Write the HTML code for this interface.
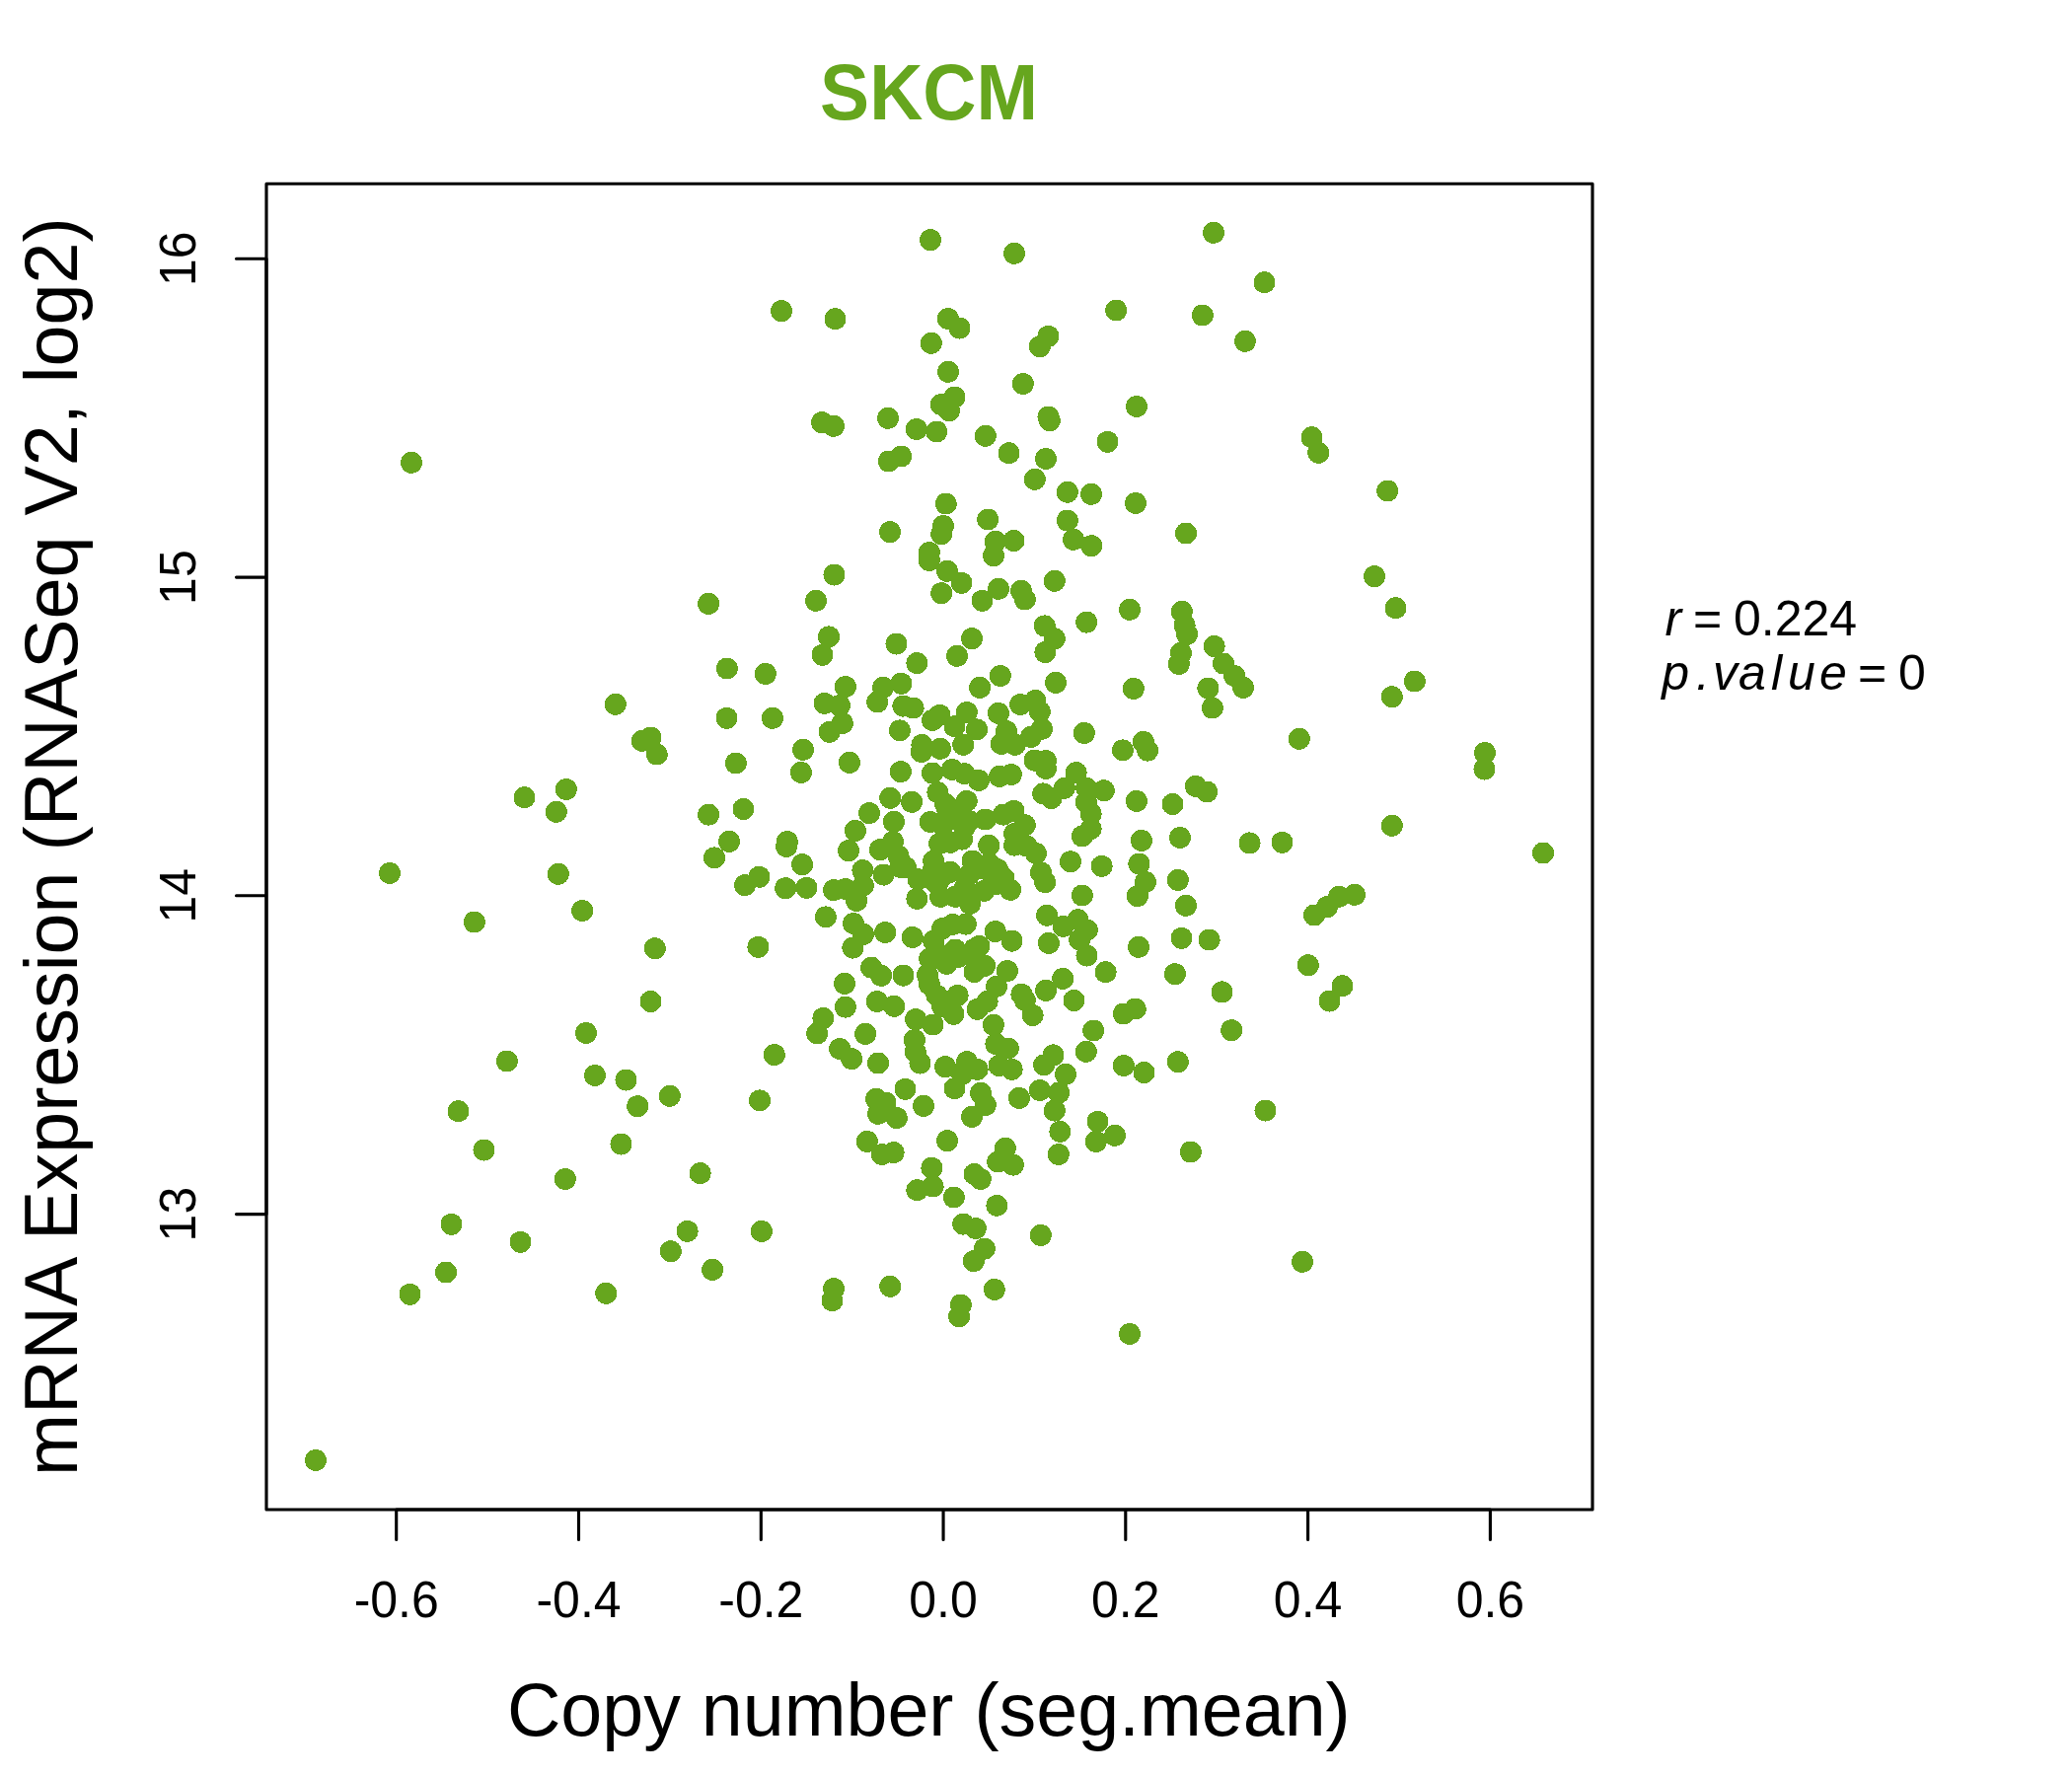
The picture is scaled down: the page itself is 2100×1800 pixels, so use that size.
<!DOCTYPE html>
<html><head><meta charset="utf-8"><title>SKCM</title>
<style>
html,body{margin:0;padding:0;background:#fff;}
body{width:2100px;height:1800px;overflow:hidden;}
svg{display:block;}
text{font-family:"Liberation Sans",sans-serif;}
</style></head><body>
<svg width="2100" height="1800" viewBox="0 0 2100 1800" xmlns="http://www.w3.org/2000/svg">
<rect x="0" y="0" width="2100" height="1800" fill="#fff"/>
<text transform="translate(941.5 121) scale(1 1.05)" text-anchor="middle" font-size="75" font-weight="bold" fill="#66A61E">SKCM</text>
<g fill="#66A61E" shape-rendering="crispEdges"><circle cx="1347.5" cy="1014.5" r="11"/><circle cx="1138.8" cy="1027.5" r="11"/><circle cx="1150.8" cy="1022.5" r="11"/><circle cx="1108.2" cy="1044.5" r="11"/><circle cx="1100.8" cy="1065.8" r="11"/><circle cx="1138.8" cy="1080.0" r="11"/><circle cx="1159.5" cy="1087.0" r="11"/><circle cx="1193.8" cy="1076.2" r="11"/><circle cx="1248.2" cy="1044.2" r="11"/><circle cx="1282.5" cy="1125.5" r="11"/><circle cx="1112.5" cy="1136.8" r="11"/><circle cx="1130.0" cy="1150.8" r="11"/><circle cx="1110.8" cy="1157.0" r="11"/><circle cx="1206.8" cy="1167.5" r="11"/><circle cx="1320.0" cy="1278.8" r="11"/><circle cx="1145.0" cy="1352.0" r="11"/><circle cx="1230.0" cy="235.8" r="11"/><circle cx="1281.5" cy="286.2" r="11"/><circle cx="1131.2" cy="314.5" r="11"/><circle cx="1218.8" cy="319.5" r="11"/><circle cx="1262.0" cy="345.8" r="11"/><circle cx="1152.0" cy="412.0" r="11"/><circle cx="1122.5" cy="447.8" r="11"/><circle cx="1329.5" cy="443.2" r="11"/><circle cx="1336.2" cy="458.8" r="11"/><circle cx="1106.0" cy="500.8" r="11"/><circle cx="1151.0" cy="510.0" r="11"/><circle cx="1406.2" cy="497.5" r="11"/><circle cx="1202.0" cy="540.5" r="11"/><circle cx="1106.2" cy="553.2" r="11"/><circle cx="1393.0" cy="584.2" r="11"/><circle cx="1414.5" cy="616.2" r="11"/><circle cx="1433.8" cy="690.5" r="11"/><circle cx="1410.8" cy="706.2" r="11"/><circle cx="1316.8" cy="748.8" r="11"/><circle cx="1505.0" cy="763.0" r="11"/><circle cx="1504.5" cy="779.5" r="11"/><circle cx="1410.8" cy="836.8" r="11"/><circle cx="1299.5" cy="853.8" r="11"/><circle cx="1373.0" cy="906.8" r="11"/><circle cx="1357.0" cy="908.8" r="11"/><circle cx="1345.0" cy="919.2" r="11"/><circle cx="1332.0" cy="927.5" r="11"/><circle cx="1325.8" cy="978.2" r="11"/><circle cx="1360.5" cy="999.2" r="11"/><circle cx="1101.2" cy="630.6" r="11"/><circle cx="1145.0" cy="617.8" r="11"/><circle cx="1197.8" cy="619.8" r="11"/><circle cx="1200.6" cy="633.8" r="11"/><circle cx="1203.1" cy="642.8" r="11"/><circle cx="1196.9" cy="661.9" r="11"/><circle cx="1194.8" cy="672.9" r="11"/><circle cx="1230.6" cy="655.0" r="11"/><circle cx="1240.0" cy="672.5" r="11"/><circle cx="1251.2" cy="685.0" r="11"/><circle cx="1260.0" cy="696.9" r="11"/><circle cx="1224.4" cy="697.5" r="11"/><circle cx="1228.8" cy="717.5" r="11"/><circle cx="1148.8" cy="697.9" r="11"/><circle cx="1098.8" cy="742.9" r="11"/><circle cx="1137.9" cy="760.4" r="11"/><circle cx="1158.8" cy="751.9" r="11"/><circle cx="1163.1" cy="760.6" r="11"/><circle cx="1090.6" cy="783.1" r="11"/><circle cx="1101.2" cy="798.8" r="11"/><circle cx="1118.8" cy="801.2" r="11"/><circle cx="1211.9" cy="796.9" r="11"/><circle cx="1223.1" cy="802.5" r="11"/><circle cx="1105.6" cy="824.8" r="11"/><circle cx="1105.6" cy="840.0" r="11"/><circle cx="1096.9" cy="847.5" r="11"/><circle cx="1151.9" cy="811.9" r="11"/><circle cx="1188.5" cy="815.0" r="11"/><circle cx="1156.9" cy="851.9" r="11"/><circle cx="1196.0" cy="849.0" r="11"/><circle cx="1266.6" cy="854.4" r="11"/><circle cx="1116.6" cy="877.9" r="11"/><circle cx="1154.4" cy="875.6" r="11"/><circle cx="1161.0" cy="894.0" r="11"/><circle cx="1152.9" cy="908.1" r="11"/><circle cx="1193.8" cy="891.9" r="11"/><circle cx="1096.9" cy="907.5" r="11"/><circle cx="1201.9" cy="917.8" r="11"/><circle cx="1092.5" cy="932.2" r="11"/><circle cx="1101.9" cy="942.5" r="11"/><circle cx="1101.5" cy="968.5" r="11"/><circle cx="1154.0" cy="959.8" r="11"/><circle cx="1197.5" cy="950.9" r="11"/><circle cx="1225.6" cy="952.5" r="11"/><circle cx="1120.6" cy="985.2" r="11"/><circle cx="1190.9" cy="987.2" r="11"/><circle cx="1238.5" cy="1005.4" r="11"/><circle cx="659.5" cy="1015.0" r="11"/><circle cx="594.0" cy="1047.0" r="11"/><circle cx="513.8" cy="1075.5" r="11"/><circle cx="603.0" cy="1090.0" r="11"/><circle cx="634.5" cy="1094.5" r="11"/><circle cx="678.8" cy="1110.8" r="11"/><circle cx="646.2" cy="1121.2" r="11"/><circle cx="464.5" cy="1126.2" r="11"/><circle cx="490.5" cy="1165.5" r="11"/><circle cx="629.5" cy="1159.5" r="11"/><circle cx="572.8" cy="1195.0" r="11"/><circle cx="457.5" cy="1240.8" r="11"/><circle cx="527.5" cy="1258.8" r="11"/><circle cx="679.8" cy="1268.2" r="11"/><circle cx="452.0" cy="1289.5" r="11"/><circle cx="415.5" cy="1311.8" r="11"/><circle cx="614.2" cy="1310.8" r="11"/><circle cx="417.0" cy="468.8" r="11"/><circle cx="623.8" cy="713.8" r="11"/><circle cx="650.8" cy="750.8" r="11"/><circle cx="659.5" cy="747.5" r="11"/><circle cx="665.8" cy="764.5" r="11"/><circle cx="531.5" cy="808.2" r="11"/><circle cx="573.8" cy="800.0" r="11"/><circle cx="563.8" cy="822.8" r="11"/><circle cx="395.0" cy="885.0" r="11"/><circle cx="565.8" cy="885.8" r="11"/><circle cx="480.8" cy="934.5" r="11"/><circle cx="590.2" cy="923.0" r="11"/><circle cx="663.8" cy="961.2" r="11"/><circle cx="856.9" cy="1020.6" r="11"/><circle cx="888.8" cy="1015.0" r="11"/><circle cx="834.4" cy="1031.9" r="11"/><circle cx="828.1" cy="1047.5" r="11"/><circle cx="877.1" cy="1047.9" r="11"/><circle cx="851.2" cy="1063.1" r="11"/><circle cx="863.1" cy="1073.1" r="11"/><circle cx="890.0" cy="1077.5" r="11"/><circle cx="784.8" cy="1069.1" r="11"/><circle cx="770.0" cy="1115.4" r="11"/><circle cx="709.6" cy="1189.1" r="11"/><circle cx="888.1" cy="1113.8" r="11"/><circle cx="878.8" cy="1156.9" r="11"/><circle cx="696.6" cy="1247.9" r="11"/><circle cx="771.9" cy="1247.9" r="11"/><circle cx="722.1" cy="1286.9" r="11"/><circle cx="845.0" cy="1306.2" r="11"/><circle cx="843.5" cy="1318.1" r="11"/><circle cx="943.0" cy="243.2" r="11"/><circle cx="1028.0" cy="256.8" r="11"/><circle cx="792.0" cy="315.2" r="11"/><circle cx="846.5" cy="323.2" r="11"/><circle cx="960.8" cy="323.0" r="11"/><circle cx="972.5" cy="332.5" r="11"/><circle cx="943.8" cy="347.8" r="11"/><circle cx="1062.5" cy="340.8" r="11"/><circle cx="1053.8" cy="351.2" r="11"/><circle cx="961.0" cy="376.8" r="11"/><circle cx="1036.8" cy="389.0" r="11"/><circle cx="967.5" cy="402.5" r="11"/><circle cx="953.8" cy="410.0" r="11"/><circle cx="962.0" cy="416.2" r="11"/><circle cx="833.0" cy="428.2" r="11"/><circle cx="845.0" cy="431.8" r="11"/><circle cx="900.0" cy="423.8" r="11"/><circle cx="928.8" cy="435.0" r="11"/><circle cx="949.2" cy="437.5" r="11"/><circle cx="1062.5" cy="422.5" r="11"/><circle cx="1063.8" cy="426.2" r="11"/><circle cx="998.8" cy="441.8" r="11"/><circle cx="1022.5" cy="459.2" r="11"/><circle cx="1060.0" cy="465.0" r="11"/><circle cx="900.8" cy="467.5" r="11"/><circle cx="913.2" cy="462.5" r="11"/><circle cx="1048.8" cy="485.8" r="11"/><circle cx="1081.8" cy="498.8" r="11"/><circle cx="958.8" cy="510.5" r="11"/><circle cx="956.0" cy="533.0" r="11"/><circle cx="954.2" cy="541.2" r="11"/><circle cx="1001.2" cy="526.5" r="11"/><circle cx="902.0" cy="539.2" r="11"/><circle cx="1081.8" cy="527.5" r="11"/><circle cx="1008.8" cy="548.8" r="11"/><circle cx="1027.5" cy="548.0" r="11"/><circle cx="1007.0" cy="563.2" r="11"/><circle cx="1088.0" cy="546.8" r="11"/><circle cx="941.8" cy="560.0" r="11"/><circle cx="941.8" cy="568.0" r="11"/><circle cx="960.0" cy="578.8" r="11"/><circle cx="974.5" cy="590.8" r="11"/><circle cx="845.5" cy="582.5" r="11"/><circle cx="1068.8" cy="588.8" r="11"/><circle cx="827.0" cy="608.8" r="11"/><circle cx="954.2" cy="601.2" r="11"/><circle cx="995.5" cy="608.8" r="11"/><circle cx="1012.0" cy="596.8" r="11"/><circle cx="1035.0" cy="598.8" r="11"/><circle cx="1038.8" cy="607.5" r="11"/><circle cx="718.1" cy="611.9" r="11"/><circle cx="840.0" cy="645.4" r="11"/><circle cx="833.5" cy="663.8" r="11"/><circle cx="736.9" cy="677.5" r="11"/><circle cx="775.8" cy="682.9" r="11"/><circle cx="856.9" cy="696.0" r="11"/><circle cx="835.6" cy="712.9" r="11"/><circle cx="850.9" cy="715.0" r="11"/><circle cx="853.8" cy="733.1" r="11"/><circle cx="840.6" cy="741.9" r="11"/><circle cx="889.1" cy="711.5" r="11"/><circle cx="736.5" cy="727.8" r="11"/><circle cx="782.9" cy="727.8" r="11"/><circle cx="814.0" cy="759.8" r="11"/><circle cx="811.9" cy="782.9" r="11"/><circle cx="745.9" cy="773.5" r="11"/><circle cx="860.9" cy="772.9" r="11"/><circle cx="718.1" cy="825.6" r="11"/><circle cx="753.5" cy="820.0" r="11"/><circle cx="881.0" cy="824.1" r="11"/><circle cx="739.0" cy="852.9" r="11"/><circle cx="724.0" cy="869.4" r="11"/><circle cx="797.8" cy="853.1" r="11"/><circle cx="797.1" cy="857.9" r="11"/><circle cx="813.1" cy="876.2" r="11"/><circle cx="866.9" cy="841.9" r="11"/><circle cx="860.0" cy="862.2" r="11"/><circle cx="769.4" cy="888.8" r="11"/><circle cx="755.0" cy="897.1" r="11"/><circle cx="796.2" cy="900.2" r="11"/><circle cx="817.5" cy="899.8" r="11"/><circle cx="874.4" cy="882.1" r="11"/><circle cx="874.8" cy="897.5" r="11"/><circle cx="845.0" cy="902.1" r="11"/><circle cx="856.9" cy="901.0" r="11"/><circle cx="868.1" cy="912.9" r="11"/><circle cx="836.9" cy="929.4" r="11"/><circle cx="865.0" cy="936.0" r="11"/><circle cx="875.0" cy="946.9" r="11"/><circle cx="864.4" cy="960.6" r="11"/><circle cx="768.4" cy="959.8" r="11"/><circle cx="883.1" cy="980.6" r="11"/><circle cx="856.0" cy="996.9" r="11"/><circle cx="906.2" cy="1019.8" r="11"/><circle cx="966.5" cy="1027.8" r="11"/><circle cx="990.6" cy="1022.8" r="11"/><circle cx="1000.6" cy="1015.0" r="11"/><circle cx="1046.6" cy="1029.0" r="11"/><circle cx="1038.8" cy="1013.8" r="11"/><circle cx="1088.5" cy="1014.0" r="11"/><circle cx="928.1" cy="1033.1" r="11"/><circle cx="945.4" cy="1038.5" r="11"/><circle cx="926.9" cy="1054.0" r="11"/><circle cx="932.5" cy="1077.5" r="11"/><circle cx="1006.9" cy="1038.8" r="11"/><circle cx="1009.4" cy="1058.1" r="11"/><circle cx="1021.9" cy="1062.5" r="11"/><circle cx="1025.6" cy="1083.8" r="11"/><circle cx="1012.5" cy="1080.0" r="11"/><circle cx="958.1" cy="1081.2" r="11"/><circle cx="980.0" cy="1076.2" r="11"/><circle cx="990.6" cy="1083.8" r="11"/><circle cx="967.5" cy="1103.1" r="11"/><circle cx="1067.5" cy="1069.4" r="11"/><circle cx="1058.1" cy="1079.4" r="11"/><circle cx="1080.0" cy="1088.8" r="11"/><circle cx="917.5" cy="1103.8" r="11"/><circle cx="897.5" cy="1117.5" r="11"/><circle cx="908.8" cy="1133.1" r="11"/><circle cx="890.0" cy="1128.8" r="11"/><circle cx="936.0" cy="1120.9" r="11"/><circle cx="994.0" cy="1107.9" r="11"/><circle cx="998.8" cy="1120.0" r="11"/><circle cx="985.0" cy="1131.9" r="11"/><circle cx="1032.9" cy="1112.9" r="11"/><circle cx="1053.8" cy="1105.0" r="11"/><circle cx="1073.1" cy="1107.5" r="11"/><circle cx="1068.8" cy="1125.6" r="11"/><circle cx="1074.4" cy="1146.9" r="11"/><circle cx="1072.8" cy="1170.0" r="11"/><circle cx="960.0" cy="1156.2" r="11"/><circle cx="905.6" cy="1168.1" r="11"/><circle cx="893.8" cy="1170.0" r="11"/><circle cx="1018.8" cy="1163.8" r="11"/><circle cx="1011.2" cy="1177.5" r="11"/><circle cx="1026.9" cy="1180.6" r="11"/><circle cx="944.4" cy="1183.8" r="11"/><circle cx="929.4" cy="1206.2" r="11"/><circle cx="945.6" cy="1202.5" r="11"/><circle cx="987.5" cy="1190.0" r="11"/><circle cx="993.8" cy="1195.0" r="11"/><circle cx="966.9" cy="1213.5" r="11"/><circle cx="1010.4" cy="1221.9" r="11"/><circle cx="976.2" cy="1240.6" r="11"/><circle cx="988.8" cy="1245.0" r="11"/><circle cx="997.8" cy="1265.6" r="11"/><circle cx="986.9" cy="1278.1" r="11"/><circle cx="1054.8" cy="1251.9" r="11"/><circle cx="902.2" cy="1303.8" r="11"/><circle cx="1007.9" cy="1306.9" r="11"/><circle cx="973.8" cy="1322.5" r="11"/><circle cx="972.1" cy="1334.4" r="11"/><circle cx="908.5" cy="652.5" r="11"/><circle cx="929.4" cy="672.1" r="11"/><circle cx="985.0" cy="647.2" r="11"/><circle cx="970.0" cy="664.8" r="11"/><circle cx="1058.8" cy="634.4" r="11"/><circle cx="1068.8" cy="647.2" r="11"/><circle cx="1059.4" cy="661.0" r="11"/><circle cx="1013.8" cy="685.0" r="11"/><circle cx="993.1" cy="696.9" r="11"/><circle cx="1070.0" cy="691.9" r="11"/><circle cx="895.0" cy="696.9" r="11"/><circle cx="913.4" cy="692.8" r="11"/><circle cx="915.4" cy="715.6" r="11"/><circle cx="925.6" cy="717.5" r="11"/><circle cx="911.9" cy="740.4" r="11"/><circle cx="952.5" cy="724.8" r="11"/><circle cx="945.0" cy="730.0" r="11"/><circle cx="979.8" cy="722.0" r="11"/><circle cx="990.0" cy="739.4" r="11"/><circle cx="967.5" cy="736.2" r="11"/><circle cx="976.2" cy="754.8" r="11"/><circle cx="1011.9" cy="722.9" r="11"/><circle cx="1034.1" cy="714.0" r="11"/><circle cx="1049.4" cy="710.0" r="11"/><circle cx="1053.8" cy="721.2" r="11"/><circle cx="1055.9" cy="738.8" r="11"/><circle cx="1014.8" cy="754.0" r="11"/><circle cx="1028.8" cy="754.8" r="11"/><circle cx="1045.0" cy="746.9" r="11"/><circle cx="1020.0" cy="741.2" r="11"/><circle cx="934.4" cy="755.0" r="11"/><circle cx="933.8" cy="761.9" r="11"/><circle cx="952.9" cy="758.8" r="11"/><circle cx="912.9" cy="782.1" r="11"/><circle cx="902.2" cy="808.8" r="11"/><circle cx="945.0" cy="783.5" r="11"/><circle cx="965.0" cy="780.0" r="11"/><circle cx="977.5" cy="784.1" r="11"/><circle cx="991.9" cy="790.9" r="11"/><circle cx="1013.1" cy="786.9" r="11"/><circle cx="1024.8" cy="785.0" r="11"/><circle cx="1048.5" cy="770.6" r="11"/><circle cx="1060.0" cy="771.2" r="11"/><circle cx="1060.0" cy="779.0" r="11"/><circle cx="950.4" cy="803.1" r="11"/><circle cx="1057.2" cy="804.4" r="11"/><circle cx="1065.6" cy="809.0" r="11"/><circle cx="1078.8" cy="798.8" r="11"/><circle cx="924.1" cy="812.8" r="11"/><circle cx="905.9" cy="832.8" r="11"/><circle cx="942.9" cy="833.0" r="11"/><circle cx="958.1" cy="814.7" r="11"/><circle cx="979.7" cy="811.9" r="11"/><circle cx="975.0" cy="850.6" r="11"/><circle cx="952.2" cy="855.0" r="11"/><circle cx="963.1" cy="853.8" r="11"/><circle cx="985.6" cy="872.5" r="11"/><circle cx="946.2" cy="872.5" r="11"/><circle cx="963.1" cy="883.8" r="11"/><circle cx="905.0" cy="853.1" r="11"/><circle cx="910.6" cy="867.5" r="11"/><circle cx="918.1" cy="879.4" r="11"/><circle cx="945.0" cy="883.8" r="11"/><circle cx="891.9" cy="861.2" r="11"/><circle cx="895.6" cy="886.6" r="11"/><circle cx="912.5" cy="878.8" r="11"/><circle cx="968.1" cy="830.6" r="11"/><circle cx="977.5" cy="900.6" r="11"/><circle cx="930.6" cy="891.2" r="11"/><circle cx="952.5" cy="891.2" r="11"/><circle cx="968.1" cy="908.8" r="11"/><circle cx="953.1" cy="908.8" r="11"/><circle cx="959.4" cy="818.1" r="11"/><circle cx="955.6" cy="836.2" r="11"/><circle cx="929.4" cy="910.9" r="11"/><circle cx="983.1" cy="915.9" r="11"/><circle cx="897.2" cy="945.0" r="11"/><circle cx="924.7" cy="950.0" r="11"/><circle cx="955.0" cy="941.2" r="11"/><circle cx="965.6" cy="936.9" r="11"/><circle cx="978.8" cy="936.6" r="11"/><circle cx="946.2" cy="953.8" r="11"/><circle cx="942.2" cy="971.6" r="11"/><circle cx="959.4" cy="976.9" r="11"/><circle cx="968.1" cy="962.5" r="11"/><circle cx="987.5" cy="985.0" r="11"/><circle cx="987.5" cy="961.9" r="11"/><circle cx="893.1" cy="988.8" r="11"/><circle cx="915.5" cy="988.6" r="11"/><circle cx="940.0" cy="988.1" r="11"/><circle cx="941.9" cy="997.5" r="11"/><circle cx="949.4" cy="1008.8" r="11"/><circle cx="970.6" cy="1008.8" r="11"/><circle cx="998.8" cy="830.5" r="11"/><circle cx="1027.5" cy="821.9" r="11"/><circle cx="1016.9" cy="825.6" r="11"/><circle cx="1038.8" cy="836.2" r="11"/><circle cx="1028.1" cy="845.0" r="11"/><circle cx="1028.1" cy="856.6" r="11"/><circle cx="1050.0" cy="865.0" r="11"/><circle cx="1040.6" cy="857.5" r="11"/><circle cx="1055.0" cy="884.4" r="11"/><circle cx="1059.1" cy="894.1" r="11"/><circle cx="1002.2" cy="856.8" r="11"/><circle cx="1085.0" cy="873.3" r="11"/><circle cx="1010.8" cy="880.9" r="11"/><circle cx="1024.1" cy="901.8" r="11"/><circle cx="997.5" cy="902.8" r="11"/><circle cx="997.5" cy="880.6" r="11"/><circle cx="1008.8" cy="896.2" r="11"/><circle cx="1061.1" cy="927.7" r="11"/><circle cx="1077.5" cy="938.8" r="11"/><circle cx="1062.9" cy="955.9" r="11"/><circle cx="1008.8" cy="944.1" r="11"/><circle cx="1025.5" cy="953.6" r="11"/><circle cx="992.5" cy="958.8" r="11"/><circle cx="998.1" cy="978.8" r="11"/><circle cx="1020.9" cy="984.1" r="11"/><circle cx="1010.0" cy="999.8" r="11"/><circle cx="1077.2" cy="991.9" r="11"/><circle cx="1060.0" cy="1003.9" r="11"/><circle cx="1035.4" cy="1007.8" r="11"/><circle cx="1564.0" cy="864.5" r="11"/><circle cx="320.0" cy="1480.0" r="11"/><circle cx="970.0" cy="821.2" r="11"/><circle cx="982.0" cy="832.0" r="11"/><circle cx="977.5" cy="838.8" r="11"/><circle cx="1002.5" cy="875.0" r="11"/><circle cx="1017.5" cy="890.0" r="11"/><circle cx="952.5" cy="968.1" r="11"/><circle cx="987.5" cy="971.2" r="11"/><circle cx="982.5" cy="886.2" r="11"/><circle cx="971.2" cy="970.0" r="11"/><circle cx="975.0" cy="1088.8" r="11"/><circle cx="927.8" cy="1066.2" r="11"/><circle cx="955.2" cy="1020.0" r="11"/><circle cx="1100.9" cy="813.1" r="11"/><circle cx="948.1" cy="894.4" r="11"/><circle cx="1094.1" cy="952.5" r="11"/></g>
<g stroke="#000" stroke-width="3.125" fill="none" stroke-linecap="round">
<rect x="270" y="186.3" width="1344" height="1343.7" stroke-linejoin="round"/>
<path d="M270 1230.6V262.3M270 262.3H239.5M270 585.1H239.5M270 907.8H239.5M270 1230.6H239.5"/>
<path d="M401.7 1530H1510.4M401.7 1530V1560.5M586.5 1530V1560.5M771.3 1530V1560.5M956.05 1530V1560.5M1140.8 1530V1560.5M1325.6 1530V1560.5M1510.4 1530V1560.5"/>
</g>
<g font-size="50" fill="#000" text-anchor="middle">
<text transform="translate(197.9 262.3) rotate(-90) scale(1 1.03)">16</text>
<text transform="translate(197.9 585.1) rotate(-90) scale(1 1.03)">15</text>
<text transform="translate(197.9 907.8) rotate(-90) scale(1 1.03)">14</text>
<text transform="translate(197.9 1230.6) rotate(-90) scale(1 1.03)">13</text>
<text transform="translate(401.7 1638.7) scale(1 1.03)">-0.6</text>
<text transform="translate(586.5 1638.7) scale(1 1.03)">-0.4</text>
<text transform="translate(771.3 1638.7) scale(1 1.03)">-0.2</text>
<text transform="translate(956.05 1638.7) scale(1 1.03)">0.0</text>
<text transform="translate(1140.8 1638.7) scale(1 1.03)">0.2</text>
<text transform="translate(1325.6 1638.7) scale(1 1.03)">0.4</text>
<text transform="translate(1510.4 1638.7) scale(1 1.03)">0.6</text>
</g>
<g font-size="75" fill="#000" text-anchor="middle">
<text transform="translate(941.3 1758.6)" font-size="75.4">Copy number (seg.mean)</text>
<text transform="translate(78 858.2) rotate(-90)" font-size="75.5">mRNA Expression (RNASeq V2, log2)</text>
</g>
<g font-size="50" fill="#000">
<text x="1687.5" y="643.9" font-style="italic">r</text>
<text x="1716" y="643.9">=</text>
<text x="1757" y="643.9">0.224</text>
<text x="1684.3" y="698.9" font-style="italic">p</text>
<text x="1719" y="698.9" font-style="italic">.</text>
<text x="1736" y="698.9" font-style="italic">v</text>
<text x="1762" y="698.9" font-style="italic">a</text>
<text x="1795" y="698.9" font-style="italic">l</text>
<text x="1812" y="698.9" font-style="italic">u</text>
<text x="1844" y="698.9" font-style="italic">e</text>
<text x="1883" y="698.9">=</text>
<text x="1924" y="698.9">0</text>
</g>
</svg>
</body></html>
